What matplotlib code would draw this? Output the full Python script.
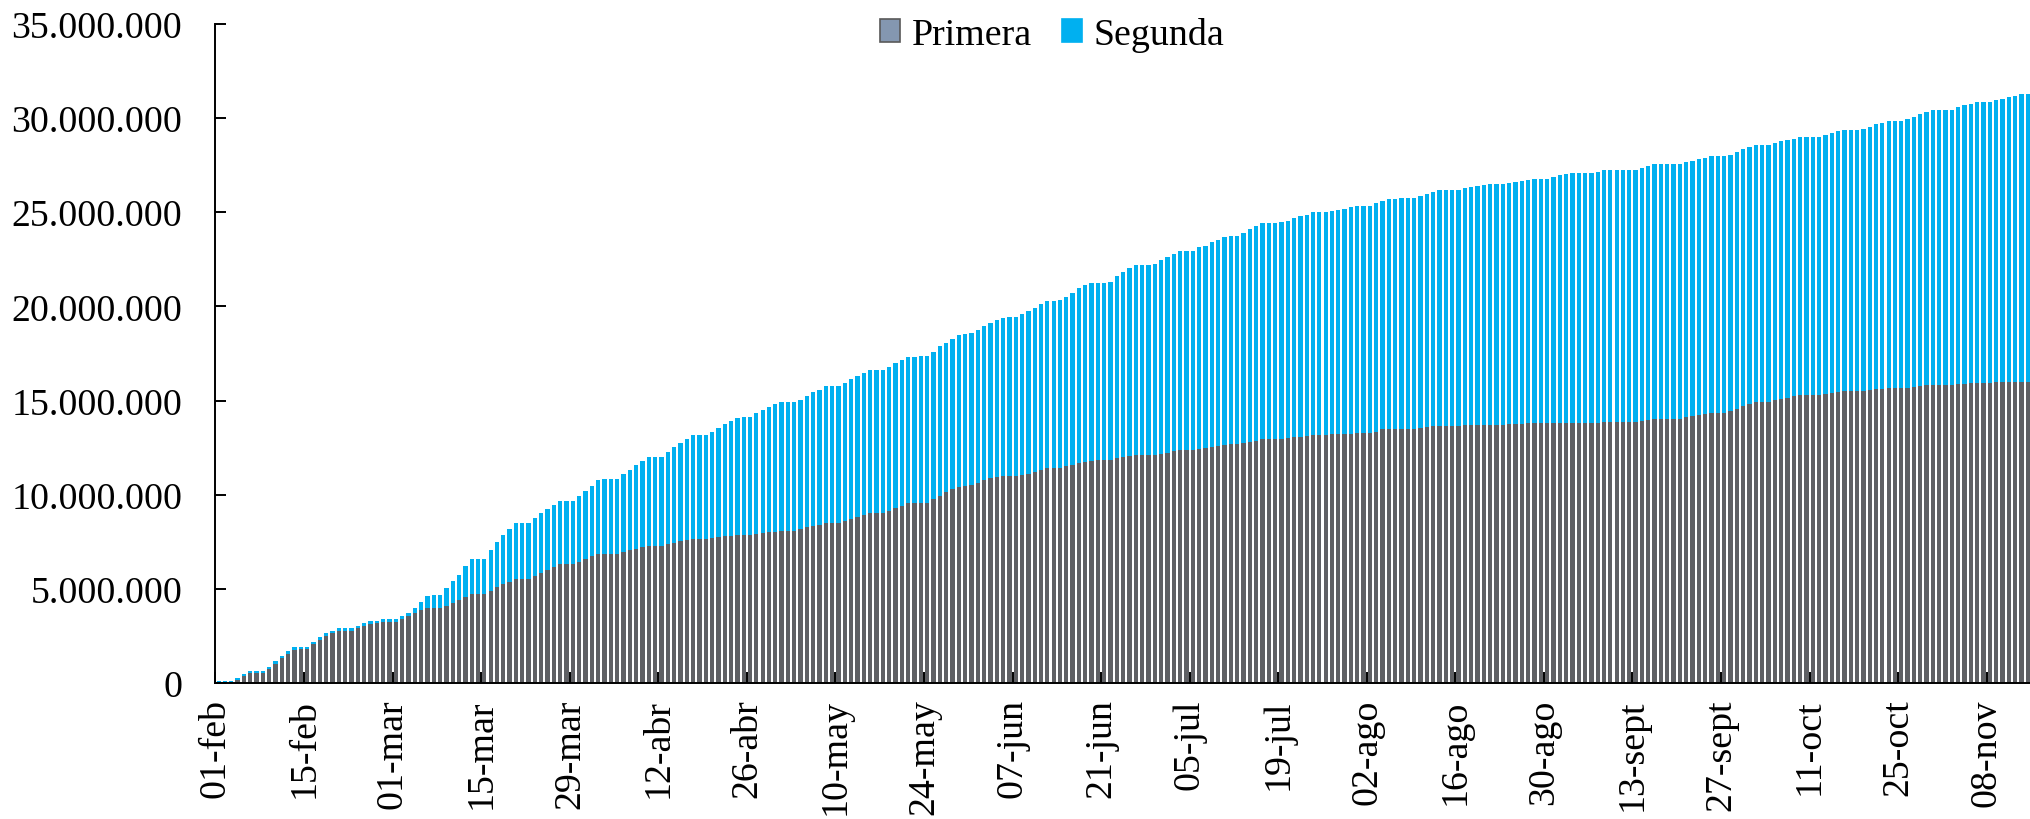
"""Cumulative vaccination doses (first and second) by day, stacked bars."""

import matplotlib

matplotlib.use("Agg")
import matplotlib.pyplot as plt
import numpy as np
import pandas as pd
from matplotlib.patches import Patch
from matplotlib.ticker import FuncFormatter, MultipleLocator

plt.rcParams["font.family"] = ["Liberation Serif", "DejaVu Serif"]

# one bar per day, 01-feb to 14-nov
DAYS = pd.date_range("2021-02-01", "2021-11-14", freq="D")

# cumulative doses, millions (one row = one week starting on Monday)
PRIMERA = [
    0.05, 0.05, 0.07, 0.18, 0.35, 0.53, 0.55,
    0.55, 0.76, 1.03, 1.31, 1.56, 1.77, 1.80,
    1.80, 2.07, 2.30, 2.51, 2.63, 2.77, 2.77,
    2.77, 2.90, 3.02, 3.13, 3.16, 3.23, 3.23,
    3.23, 3.38, 3.53, 3.71, 3.85, 3.98, 3.98,
    3.98, 4.10, 4.24, 4.40, 4.54, 4.73, 4.73,
    4.73, 4.90, 5.07, 5.23, 5.37, 5.54, 5.54,
    5.54, 5.67, 5.85, 5.99, 6.17, 6.31, 6.31,
    6.31, 6.45, 6.59, 6.73, 6.86, 6.86, 6.86,
    6.86, 6.96, 7.05, 7.14, 7.21, 7.30, 7.30,
    7.30, 7.39, 7.44, 7.53, 7.58, 7.64, 7.64,
    7.64, 7.69, 7.74, 7.78, 7.81, 7.86, 7.88,
    7.88, 7.90, 7.95, 8.01, 8.02, 8.07, 8.07,
    8.07, 8.17, 8.29, 8.34, 8.40, 8.48, 8.48,
    8.48, 8.59, 8.73, 8.84, 8.93, 9.01, 9.01,
    9.01, 9.14, 9.28, 9.40, 9.54, 9.54, 9.58,
    9.58, 9.77, 9.95, 10.13, 10.30, 10.43, 10.46,
    10.50, 10.64, 10.78, 10.90, 10.94, 10.98, 10.99,
    10.99, 11.05, 11.10, 11.21, 11.29, 11.40, 11.40,
    11.40, 11.52, 11.58, 11.68, 11.75, 11.81, 11.82,
    11.82, 11.82, 11.95, 12.02, 12.05, 12.09, 12.12,
    12.12, 12.12, 12.14, 12.20, 12.30, 12.35, 12.35,
    12.35, 12.44, 12.48, 12.55, 12.58, 12.65, 12.67,
    12.67, 12.74, 12.78, 12.87, 12.95, 12.95, 12.95,
    12.97, 13.01, 13.06, 13.08, 13.10, 13.15, 13.15,
    13.15, 13.20, 13.20, 13.20, 13.22, 13.26, 13.26,
    13.26, 13.35, 13.47, 13.47, 13.49, 13.49, 13.49,
    13.49, 13.54, 13.61, 13.64, 13.64, 13.64, 13.64,
    13.64, 13.68, 13.72, 13.72, 13.72, 13.72, 13.72,
    13.72, 13.73, 13.73, 13.77, 13.79, 13.79, 13.79,
    13.79, 13.79, 13.82, 13.82, 13.82, 13.82, 13.82,
    13.82, 13.82, 13.84, 13.84, 13.84, 13.84, 13.84,
    13.84, 13.91, 13.94, 14.00, 14.03, 14.03, 14.03,
    14.03, 14.10, 14.17, 14.25, 14.30, 14.35, 14.35,
    14.35, 14.42, 14.56, 14.70, 14.79, 14.90, 14.90,
    14.90, 15.01, 15.08, 15.15, 15.22, 15.29, 15.29,
    15.29, 15.29, 15.36, 15.39, 15.43, 15.48, 15.48,
    15.48, 15.52, 15.55, 15.59, 15.62, 15.64, 15.64,
    15.64, 15.66, 15.71, 15.77, 15.80, 15.84, 15.84,
    15.84, 15.84, 15.87, 15.89, 15.91, 15.94, 15.94,
    15.94, 15.98, 15.98, 16.01, 16.01, 16.01, 16.01,
]

SEGUNDA = [
    0.03, 0.03, 0.05, 0.10, 0.11, 0.11, 0.11,
    0.11, 0.11, 0.11, 0.12, 0.12, 0.12, 0.13,
    0.13, 0.13, 0.13, 0.13, 0.13, 0.14, 0.14,
    0.14, 0.14, 0.14, 0.14, 0.14, 0.15, 0.15,
    0.15, 0.15, 0.16, 0.28, 0.44, 0.63, 0.67,
    0.67, 0.92, 1.15, 1.36, 1.66, 1.87, 1.87,
    1.87, 2.15, 2.39, 2.62, 2.80, 2.94, 2.94,
    2.94, 3.08, 3.16, 3.24, 3.27, 3.36, 3.36,
    3.36, 3.48, 3.61, 3.75, 3.94, 3.96, 3.96,
    3.96, 4.12, 4.28, 4.42, 4.60, 4.72, 4.72,
    4.72, 4.88, 5.07, 5.21, 5.37, 5.51, 5.51,
    5.53, 5.65, 5.82, 5.95, 6.12, 6.23, 6.24,
    6.24, 6.43, 6.56, 6.66, 6.81, 6.85, 6.85,
    6.85, 6.87, 6.95, 7.09, 7.17, 7.27, 7.27,
    7.27, 7.35, 7.39, 7.47, 7.52, 7.62, 7.62,
    7.62, 7.65, 7.69, 7.73, 7.78, 7.78, 7.79,
    7.79, 7.83, 7.94, 7.95, 7.97, 8.04, 8.06,
    8.06, 8.11, 8.18, 8.24, 8.34, 8.39, 8.42,
    8.42, 8.52, 8.64, 8.71, 8.81, 8.89, 8.89,
    8.93, 9.00, 9.15, 9.28, 9.39, 9.42, 9.44,
    9.44, 9.48, 9.65, 9.82, 9.97, 10.09, 10.09,
    10.09, 10.11, 10.31, 10.42, 10.50, 10.59, 10.61,
    10.61, 10.70, 10.74, 10.87, 10.95, 11.02, 11.07,
    11.07, 11.17, 11.31, 11.38, 11.48, 11.48, 11.48,
    11.49, 11.54, 11.63, 11.72, 11.77, 11.86, 11.86,
    11.86, 11.88, 11.93, 11.97, 12.05, 12.08, 12.08,
    12.08, 12.13, 12.14, 12.21, 12.23, 12.27, 12.27,
    12.27, 12.32, 12.37, 12.43, 12.52, 12.55, 12.55,
    12.55, 12.58, 12.61, 12.68, 12.74, 12.79, 12.79,
    12.79, 12.83, 12.87, 12.87, 12.91, 12.99, 12.99,
    12.99, 13.07, 13.17, 13.20, 13.24, 13.24, 13.24,
    13.24, 13.29, 13.38, 13.38, 13.38, 13.41, 13.41,
    13.41, 13.45, 13.49, 13.55, 13.55, 13.55, 13.55,
    13.55, 13.55, 13.56, 13.56, 13.57, 13.61, 13.61,
    13.61, 13.63, 13.65, 13.65, 13.67, 13.67, 13.67,
    13.67, 13.67, 13.69, 13.69, 13.69, 13.69, 13.69,
    13.69, 13.69, 13.75, 13.83, 13.86, 13.88, 13.88,
    13.88, 13.92, 14.00, 14.07, 14.11, 14.19, 14.19,
    14.19, 14.28, 14.35, 14.44, 14.51, 14.59, 14.59,
    14.59, 14.59, 14.71, 14.79, 14.86, 14.94, 14.94,
    14.94, 14.98, 15.04, 15.11, 15.18, 15.26, 15.26,
]

TICK_LABELS = [
    "01-feb", "15-feb", "01-mar", "15-mar", "29-mar", "12-abr", "26-abr",
    "10-may", "24-may", "07-jun", "21-jun", "05-jul", "19-jul", "02-ago",
    "16-ago", "30-ago", "13-sept", "27-sept", "11-oct", "25-oct", "08-nov",
]

PRIMERA_COLOR = "#5f6064"
PRIMERA_SWATCH = "#8497B0"
SEGUNDA_COLOR = "#00B0F0"
FONT_SIZE = 27.3


def main() -> None:
    primera = np.array(PRIMERA) * 1e6
    segunda = np.array(SEGUNDA) * 1e6
    x = np.arange(len(DAYS))

    fig = plt.figure(figsize=(20.31, 8.20), dpi=100)
    ax = fig.add_axes([0.1061, 0.1659, 0.8939, 0.8037])

    ax.bar(x, primera, width=0.68, color=PRIMERA_COLOR, linewidth=0)
    ax.bar(x, segunda, bottom=primera, width=0.68, color=SEGUNDA_COLOR, linewidth=0)

    ax.set_xlim(-0.5, len(DAYS) - 0.5)
    ax.set_ylim(0, 35_000_000)
    ax.yaxis.set_major_locator(MultipleLocator(5_000_000))
    ax.yaxis.set_major_formatter(FuncFormatter(lambda v, _: f"{int(v):,}".replace(",", ".")))

    ax.set_xticks(np.arange(len(TICK_LABELS)) * 14 - 0.5)
    ax.set_xticklabels(TICK_LABELS, rotation=90)

    for side in ("top", "right"):
        ax.spines[side].set_visible(False)
    for side in ("left", "bottom"):
        ax.spines[side].set_linewidth(1.4)
        ax.spines[side].set_color("black")

    ax.tick_params(axis="y", direction="in", length=8, width=1.4, pad=24, labelsize=FONT_SIZE)
    ax.tick_params(axis="x", direction="in", length=8, width=1.4, pad=11, labelsize=FONT_SIZE)

    handles = [
        Patch(facecolor=PRIMERA_SWATCH, edgecolor="#595959", linewidth=1.2),
        Patch(facecolor=SEGUNDA_COLOR, edgecolor=SEGUNDA_COLOR, linewidth=1.2),
    ]
    fig.legend(
        handles,
        ["Primera", "Segunda"],
        loc="center",
        bbox_to_anchor=(0.518, 0.957),
        ncol=2,
        frameon=False,
        fontsize=FONT_SIZE,
        handlelength=0.53,
        handleheight=0.53,
        handletextpad=0.3,
        columnspacing=0.8,
    )

    fig.savefig("out.png", dpi=100)
    plt.close(fig)


if __name__ == "__main__":
    main()
